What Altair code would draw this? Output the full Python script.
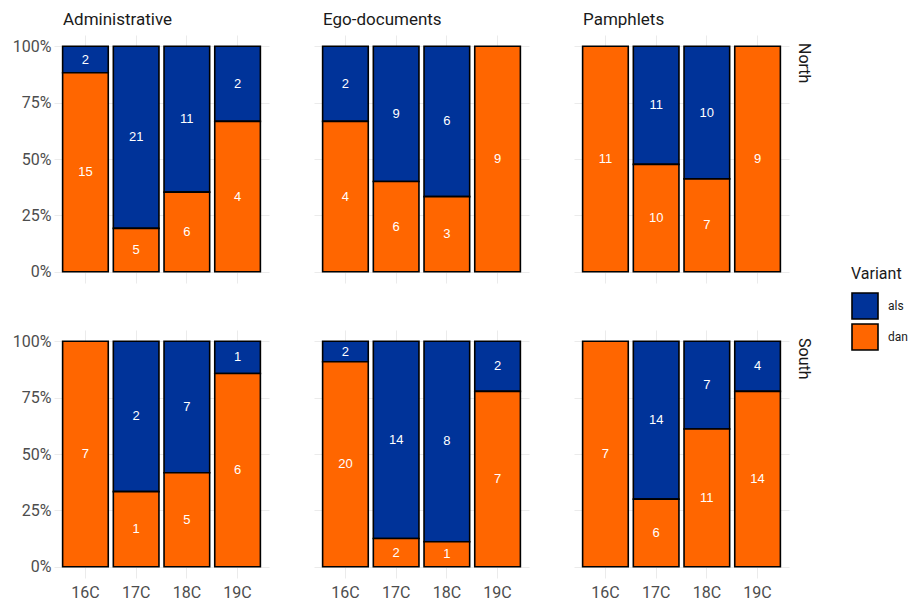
import altair as alt
import pandas as pd

# Facets and categories
regions = ["North", "South"]
genres = ["Administrative", "Ego-documents", "Pamphlets"]
centuries = ["16C", "17C", "18C", "19C"]
variants = ["als", "dan"]

# Token counts per century (16C..19C) for each region / genre
north_dan = {"Administrative": [15, 5, 6, 4], "Ego-documents": [4, 6, 3, 9], "Pamphlets": [11, 10, 7, 9]}
north_als = {"Administrative": [2, 21, 11, 2], "Ego-documents": [2, 9, 6, 0], "Pamphlets": [0, 11, 10, 0]}
south_dan = {"Administrative": [7, 1, 5, 6], "Ego-documents": [20, 2, 1, 7], "Pamphlets": [7, 6, 11, 14]}
south_als = {"Administrative": [0, 2, 7, 1], "Ego-documents": [2, 14, 8, 2], "Pamphlets": [0, 14, 7, 4]}

variant_colors = ["#003399", "#FF6600"]

records = []
for region, dan_tab, als_tab in [("North", north_dan, north_als), ("South", south_dan, south_als)]:
    for genre in genres:
        for i, century in enumerate(centuries):
            records.append({"region": region, "genre": genre, "century": century,
                            "variant": "als", "count": als_tab[genre][i]})
            records.append({"region": region, "genre": genre, "century": century,
                            "variant": "dan", "count": dan_tab[genre][i]})
df = pd.DataFrame(records)

font = "Roboto"
grey = "#4d4d4d"
dark = "#1a1a1a"
panel_w, panel_h = 215, 248

base = (
    alt.Chart()
    .transform_filter("datum.count > 0")
    .transform_stack(
        stack="count",
        groupby=["region", "genre", "century"],
        sort=[alt.SortField("variant", order="descending")],
        offset="normalize",
        as_=["y0", "y1"],
    )
    .transform_calculate(ymid="(datum.y0 + datum.y1) / 2")
)

x_enc = alt.X(
    "century:N",
    sort=centuries,
    title=None,
    scale=alt.Scale(paddingInner=0.1, paddingOuter=0.17),
    axis=alt.Axis(grid=True, ticks=False, domain=False, labelFontSize=16,
                  labelColor=grey, labelFont=font, labelPadding=6, labelAngle=0),
)
y_scale = alt.Scale(domain=[-0.05, 1.05], nice=False, zero=False)

bars = base.mark_bar(stroke="black", strokeWidth=1.6).encode(
    x=x_enc,
    y=alt.Y(
        "y0:Q",
        scale=y_scale,
        title=None,
        axis=alt.Axis(
            values=[i / 8 for i in range(9)],
            labelExpr="(datum.value * 4) % 1 == 0 ? format(datum.value, '.0%') : ''",
            grid=True, ticks=False, domain=False, labelFontSize=16,
            labelColor=grey, labelFont=font, labelPadding=3,
        ),
    ),
    y2="y1:Q",
    color=alt.Color(
        "variant:N",
        scale=alt.Scale(domain=variants, range=variant_colors),
        legend=alt.Legend(
            title="Variant", orient="none", legendX=797, legendY=231, padding=0,
            titleFontSize=16, titleFont=font, titleFontWeight="normal", titleColor=dark,
            labelFontSize=12, labelFont=font, labelColor=dark, labelOffset=9,
            symbolType="square", symbolSize=676, symbolStrokeColor="black",
            symbolStrokeWidth=1.6, symbolOpacity=1, rowPadding=-14, titlePadding=10,
        ),
    ),
)

labels = base.mark_text(color="white", fontSize=13, font="Liberation Sans").encode(
    x=alt.X("century:N", sort=centuries),
    y=alt.Y("ymid:Q", scale=y_scale),
    text="count:Q",
)

# Strip label for each genre, above the top row of panels
genre_strip = (
    alt.Chart()
    .transform_filter("datum.region == 'North' && datum.century == '16C' && datum.variant == 'dan'")
    .mark_text(align="left", baseline="alphabetic", fontSize=17, font=font, color=dark)
    .encode(x=alt.value(9), y=alt.value(-10), text="genre:N")
)

# Strip label for each region, right of the last column of panels
region_strip = (
    alt.Chart()
    .transform_filter("datum.genre == 'Pamphlets' && datum.century == '16C' && datum.variant == 'dan'")
    .mark_text(align="left", baseline="middle", angle=90, fontSize=16, font=font, color=dark)
    .encode(x=alt.value(panel_w + 15), y=alt.value(8), text="region:N")
)

layered = alt.layer(bars, labels, genre_strip, region_strip, data=df).properties(
    width=panel_w, height=panel_h
)

chart = (
    layered.facet(
        row=alt.Row("region:N", sort=regions, title=None, header=alt.Header(labels=False)),
        column=alt.Column("genre:N", sort=genres, title=None, header=alt.Header(labels=False)),
        spacing={"row": 47, "column": 45},
        bounds="flush",
    )
    .configure_view(stroke=None)
    .configure_axis(gridColor="#ebebeb", gridWidth=1)
    .properties(padding={"left": 12, "top": 11, "right": 0, "bottom": 5}, background="white")
)

chart.save("out.html", embed_options={"renderer": "svg", "actions": False})
